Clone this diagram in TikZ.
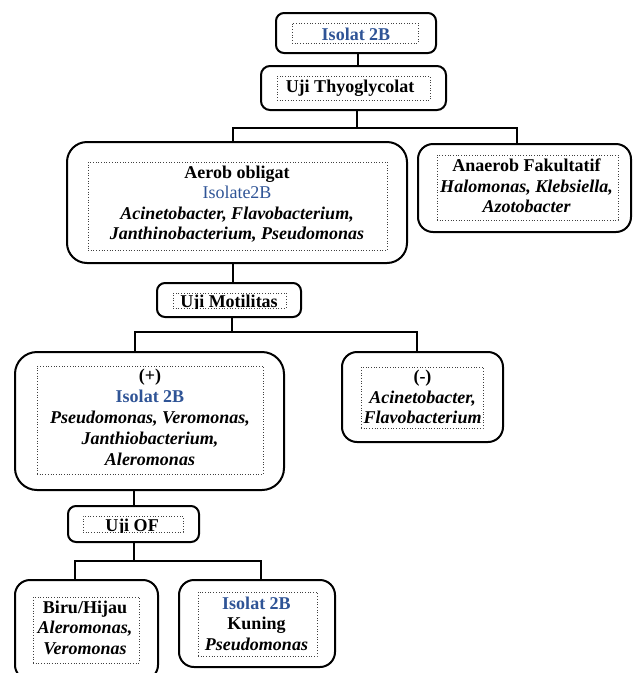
\documentclass[tikz,border=0pt]{standalone}
\usepackage{fontspec}
\setmainfont{Liberation Serif}
\definecolor{isoblue}{RGB}{47,84,150}
\tikzset{
  outerbox/.style={draw=black, line width=2pt, inner sep=0pt},
  dotbox/.style={draw=black!75, dotted, line width=0.7pt, inner sep=0pt},
  txt/.style={inner sep=0pt, align=center, font=\fontsize{18}{20.5}\selectfont\bfseries},
  conn/.style={draw=black, line width=1.8pt}
}
\begin{document}
\begin{tikzpicture}[x=1pt,y=-1pt]
\useasboundingbox (0,0) rectangle (637,673);
% ---------- boxes ----------
\node[outerbox, rounded corners=8pt, minimum width=160pt, minimum height=40pt] (b1) at (356,33) {};
\node[dotbox, minimum width=126pt, minimum height=20pt] (d1) at (355,33) {};
\node[txt, anchor=base, text=isoblue] (t1) at (356,40) {Isolat 2B};

\node[outerbox, rounded corners=9pt, minimum width=185pt, minimum height=44pt] (b2) at (353.5,88) {};
\node[dotbox, minimum width=153pt, minimum height=24pt] (d2) at (353.5,88) {};
\node[txt, anchor=base] (t2) at (350,92) {Uji Thyoglycolat};

\node[outerbox, rounded corners=20pt, minimum width=340pt, minimum height=121pt] (aer) at (237,202.5) {};
\node[dotbox, minimum width=299pt, minimum height=88pt] (daer) at (237.5,206) {};
\node[txt] (taer) at (237,204) {Aerob obligat\\
  {\mdseries\color{isoblue}Isolate2B}\\
  \itshape Acinetobacter, Flavobacterium,\\
  \itshape Janthinobacterium, Pseudomonas};

\node[outerbox, rounded corners=15pt, minimum width=213pt, minimum height=88pt] (ana) at (524.5,188) {};
\node[dotbox, minimum width=181pt, minimum height=65pt] (dana) at (527.5,187.5) {};
\node[txt] (tana) at (526.5,186) {Anaerob Fakultatif\\
  \itshape Halomonas, Klebsiella,\\
  \itshape Azotobacter};

\node[outerbox, rounded corners=8pt, minimum width=144pt, minimum height=34pt] (mot) at (229,300) {};
\node[dotbox, minimum width=113pt, minimum height=15pt] (dmot) at (229.5,300.5) {};
\begin{scope}
  \clip (dmot.south west) rectangle (dmot.north east);
  \node[txt, anchor=base] (tmot) at (229,307.5) {Uji Motilitas};
\end{scope}

\node[outerbox, rounded corners=22pt, minimum width=269pt, minimum height=138pt] (pos) at (149.5,421) {};
\node[dotbox, minimum width=226pt, minimum height=108pt] (dpos) at (150,420) {};
\node[txt, font=\fontsize{18}{21}\selectfont\bfseries] (tpos) at (150,417) {(+)\\
  {\color{isoblue}Isolat 2B}\\
  \itshape Pseudomonas, Veromonas,\\
  \itshape Janthiobacterium,\\
  \itshape Aleromonas};

\node[outerbox, rounded corners=15pt, minimum width=161pt, minimum height=90pt] (neg) at (422.5,397) {};
\node[dotbox, minimum width=122pt, minimum height=61pt] (dneg) at (422,397.5) {};
\node[txt] (tneg) at (422.5,397) {(-)\\
  \itshape Acinetobacter,\\
  \itshape Flavobacterium};

\node[outerbox, rounded corners=8pt, minimum width=131pt, minimum height=36pt] (of) at (133.5,524) {};
\node[dotbox, minimum width=100pt, minimum height=16pt] (dof) at (133,524) {};
\begin{scope}
  \clip (dof.south west) rectangle (dof.north east);
  \node[txt, anchor=base] (tof) at (132,531.5) {Uji OF};
\end{scope}

\node[outerbox, rounded corners=15pt, minimum width=143pt, minimum height=100pt] (bh) at (86.5,630) {};
\node[dotbox, minimum width=106pt, minimum height=66pt] (dbh) at (86,630) {};
\node[txt] (tbh) at (85,627.5) {Biru/Hijau\\
  \itshape Aleromonas,\\
  \itshape Veromonas};

\node[outerbox, rounded corners=15pt, minimum width=156pt, minimum height=87pt] (kn) at (257,623.5) {};
\node[dotbox, minimum width=119pt, minimum height=64pt] (dkn) at (257.5,624) {};
\node[txt] (tkn) at (256.5,623.5) {{\color{isoblue}Isolat 2B}\\
  Kuning\\
  \itshape Pseudomonas};

% ---------- junction coordinates ----------
\coordinate (j1) at (357,128);
\coordinate (xa) at (233,0);
\coordinate (xb) at (517,0);
\coordinate (j2) at (232,332);
\coordinate (xc) at (135,0);
\coordinate (xd) at (417,0);
\coordinate (j3) at (134,561);
\coordinate (xe) at (75,0);
\coordinate (xf) at (261,0);
\coordinate (x1) at (358,0);

% ---------- connectors ----------
\draw[conn] (b1.south -| x1) -- (b2.north -| x1);
\draw[conn] (b2.south -| j1) -- (j1);
\draw[conn] (aer.north -| xa) |- (j1 -| xb) -- (ana.north -| xb);
\draw[conn] (aer.south -| xa) -- (mot.north -| xa);
\draw[conn] (mot.south -| j2) -- (j2);
\draw[conn] (pos.north -| xc) |- (j2 -| xd) -- (neg.north -| xd);
\draw[conn] (pos.south -| j3) -- (of.north -| j3);
\draw[conn] (of.south -| j3) -- (j3);
\draw[conn] (bh.north -| xe) |- (j3 -| xf) -- (kn.north -| xf);
\end{tikzpicture}
\end{document}
